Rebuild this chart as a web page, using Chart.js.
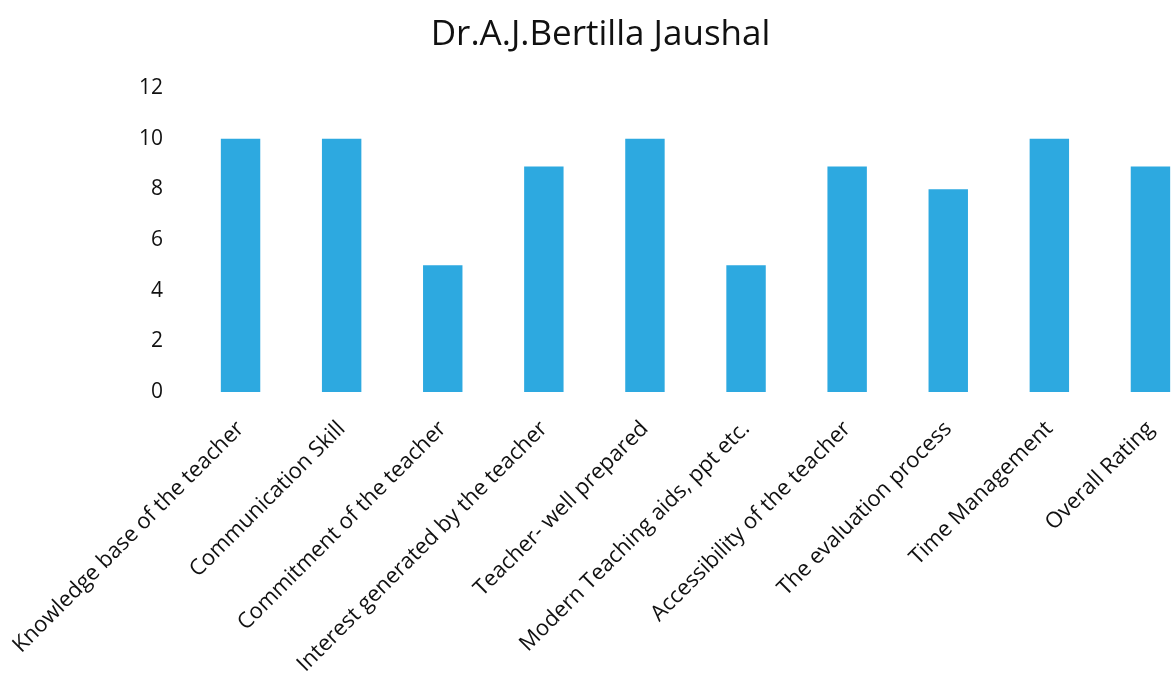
<!DOCTYPE html>
<html>
<head>
<meta charset="utf-8">
<title>Dr.A.J.Bertilla Jaushal</title>
<script src="https://cdn.jsdelivr.net/npm/chart.js@4.4.1/dist/chart.umd.min.js"></script>
<style>
    html, body { margin: 0; padding: 0; background: #fff; overflow: hidden; }
    #chart-box { position: relative; width: 1201px; height: 677px; }
</style>
</head>
<body>
<div id="chart-box"><canvas id="rating-chart"></canvas></div>
<script>
// Feedback ratings for one teacher

const chartTitle = 'Dr.A.J.Bertilla Jaushal';

const categories = [
    'Knowledge base of the teacher',
    'Communication Skill',
    'Commitment of the teacher',
    'Interest generated by the teacher',
    'Teacher- well prepared',
    'Modern Teaching aids, ppt etc.',
    'Accessibility of the teacher',
    'The evaluation process',
    'Time Management',
    'Overall Rating'
];

const scores = [10, 10, 5, 8.9, 10, 5, 8.9, 8, 10, 8.9];

const yMin = 0;
const yMax = 12;
const yStep = 2;

const FONT = '"Open Sans", "Liberation Sans", sans-serif';

let ratingChart;

document.addEventListener('DOMContentLoaded', function() {
    initializeChart();
});

function initializeChart() {
    const ctx = document.getElementById('rating-chart').getContext('2d');
    ratingChart = new Chart(ctx, {
        type: 'bar',
        data: {
            labels: categories,
            datasets: [{
                label: 'Rating',
                data: scores,
                backgroundColor: '#2DA9E0',
                borderWidth: 0,
                categoryPercentage: 1,
                barPercentage: 0.39
            }]
        },
        options: {
            responsive: true,
            maintainAspectRatio: false,
            animation: false,
            layout: {
                padding: { left: 0, right: 0, top: 0, bottom: 0 }
            },
            plugins: {
                legend: { display: false },
                tooltip: { enabled: false },
                title: {
                    display: true,
                    text: chartTitle,
                    color: '#111',
                    font: { family: FONT, size: 35, weight: 'normal' },
                    padding: { top: 14, bottom: 32 }
                }
            },
            scales: {
                x: {
                    grid: { display: false, drawTicks: false },
                    border: { display: false },
                    ticks: {
                        color: '#111',
                        autoSkip: false,
                        minRotation: 45,
                        maxRotation: 45,
                        padding: 24,
                        font: { family: FONT, size: 22 }
                    },
                    afterFit: function(scale) {
                        // fixed label band; let the long first label hang left
                        scale.height = 285;
                        scale.paddingLeft = 0;
                        scale.paddingRight = 0;
                    }
                },
                y: {
                    min: yMin,
                    max: yMax,
                    grid: { display: false, drawTicks: false },
                    border: { display: false },
                    ticks: {
                        stepSize: yStep,
                        color: '#111',
                        padding: 27,
                        font: { family: FONT, size: 21 }
                    },
                    afterFit: function(scale) {
                        scale.width = 190;
                    }
                }
            }
        }
    });
}
</script>
</body>
</html>
